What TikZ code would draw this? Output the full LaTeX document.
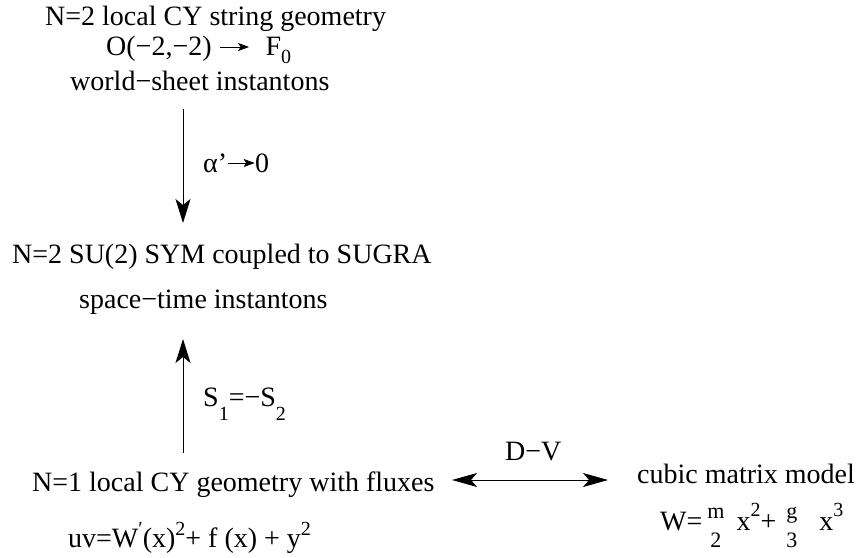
\documentclass[tikz,border=0pt]{standalone}
\usepackage{fontspec}
\setmainfont{Liberation Serif}
\usetikzlibrary{arrows.meta}
\newcommand\sarr[2]{\tikz[baseline=-#2pt]\draw[line width=0.9pt,-{Stealth[length=11pt,width=8pt,inset=2.5pt]}](0pt,0pt)--(#1pt,0pt);}
\newcommand\supx[2][12]{\raisebox{#1pt}{\fontsize{20}{20}\selectfont #2}}
\newcommand\subx[2]{\raisebox{-#2pt}{\fontsize{20}{20}\selectfont #1}}
\newcommand\stk[2]{{\fontsize{22}{22}\selectfont\ooalign{\hfil\raisebox{12pt}{#1}\hfil\cr\hfil\raisebox{-17pt}{#2}\hfil\cr}}}
\begin{document}
\begin{tikzpicture}[x=1pt,y=-1pt,
  txt/.style={anchor=base west,inner sep=0pt,font=\fontsize{28}{34}\selectfont},
  big/.style={line width=1pt,-{Stealth[length=24pt,width=15pt,inset=6pt]}},
  bigboth/.style={line width=1pt,{Stealth[length=25pt,width=14pt,inset=6pt]}-{Stealth[length=25pt,width=14pt,inset=6pt]}}]
\useasboundingbox (0,0) rectangle (859,557);
\node[txt] (t1) at (45,25) {N=2 local CY string geometry};
\node[txt] (t2) at (106,55) {O(−2,−2)\hspace{8pt}\sarr{29}{8}\hspace{16pt}F\subx{0}{8}};
\node[txt] (t3) at (70,90) {world−sheet instantons};
\node[txt] (lab1) at (203,172) {α’\sarr{27}{9}0};
\node[txt] (m1) at (12,263) {N=2 SU(2) SYM coupled to SUGRA};
\node[txt] (m2) at (79,308) {space−time instantons};
\node[txt] (lab2) at (203,406) {S\subx{1}{14}=−S\subx{2}{14}};
\node[txt] (b1) at (32,491) {N=1 local CY geometry with fluxes};
\node[txt] (b2) at (68,547) {uv=W\supx{′}(x)\supx{2}+ f (x) + y\supx{2}};
\node[txt] (dv) at (505,460) {D−V};
\node[txt] (c1) at (637,483) {cubic matrix model};
\node[txt] (c2) at (660,530) {W=\hspace{5pt}\stk{m}{2}\hspace{12pt}x\supx[14]{2}+\hspace{10pt}\stk{g}{3}\hspace{22pt}x\supx[14]{3}};
\coordinate (a1) at (183,109);
\coordinate (a2) at (183,223);
\coordinate (a3) at (183,453);
\coordinate (a4) at (183,339);
\coordinate (d1) at (452,480);
\coordinate (d2) at (608,480);
\draw[big] (a1) -- (a2);
\draw[big] (a3) -- (a4);
\draw[bigboth] (d1) -- (d2);
\end{tikzpicture}
\end{document}
